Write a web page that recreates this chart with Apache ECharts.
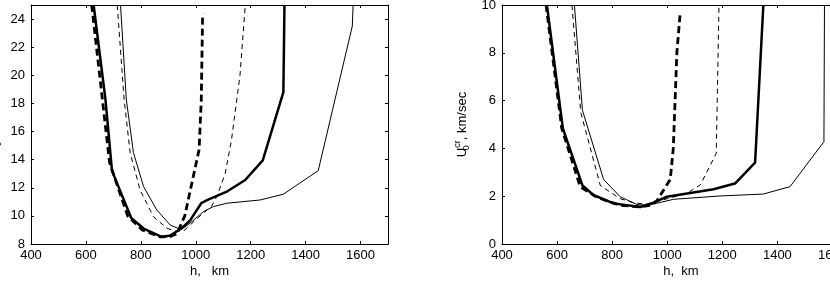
<!DOCTYPE html>
<html><head><meta charset="utf-8">
<script src="https://cdn.jsdelivr.net/npm/echarts@6/dist/echarts.min.js"></script>
<style>html,body{margin:0;padding:0;background:#fff}#c{width:830px;height:283px}</style>
</head><body><div id="c"></div>
<script>
// ---- tick labels / ranges ----
const hTicks = [400, 600, 800, 1000, 1200, 1400, 1600];
const hRange = [400, 1700];
const leftYTicks = [8, 10, 12, 14, 16, 18, 20, 22, 24];
const leftYRange = [8, 25];
const rightYTicks = [0, 2, 4, 6, 8, 10];
const rightYRange = [0, 10];
const xNames = ['h,   km', 'h,  km'];
const yNames = ['{m|U}{s|0}{m|, km/sec}', '{m|U}{s|0}{p|cr}{m|, km/sec}'];

// ---- left panel series [h, value] ----
const leftThickDashed = [[621,25],[686,13.8],[752,10.0],[805,9.0],[870,8.5],[910,8.55],[932,8.75],[960,10.0],[1012,14.7],[1020,18.2],[1025,24.4]];
const leftThickSolid = [[628,25],[671,18.3],[695,13.2],[765,9.85],[810,9.1],[876,8.5],[907,8.6],[949,9.12],[980,9.7],[1020,10.9],[1045,11.15],[1115,11.75],[1180,12.55],[1244,13.95],[1319,18.8],[1323,25]];
const leftThinDashed = [[714,25],[739,18.3],[761,14.5],[797,11.85],[846,9.94],[895,9.12],[931,8.88],[960,9.0],[1010,9.9],[1058,10.7],[1077,11.4],[1107,13.0],[1130,15.4],[1161,20.0],[1180,24.9]];
const leftThinSolid = [[726,25],[747,18.3],[773,14.5],[810,12.08],[858,10.42],[907,9.35],[937,9.1],[960,9.2],[986,9.6],[1028,10.3],[1064,10.66],[1113,10.9],[1234,11.13],[1319,11.54],[1446,13.22],[1570,23.5],[1573,25]];

// ---- right panel series [h, value] ----
const rightThickDashed = [[560,10],[617,4.84],[684,2.4],[745,1.95],[829,1.62],[902,1.55],[940,1.62],[962,1.8],[1011,2.7],[1022,4.0],[1035,8.0],[1047,9.65]];
const rightThickSolid = [[563,10],[621,4.84],[692,2.45],[732,2.05],[805,1.7],[902,1.55],[950,1.73],[999,1.98],[1168,2.29],[1246,2.53],[1319,3.4],[1349,10]];
const rightThinDashed = [[654,10],[686,5.5],[757,2.45],[828,1.9],[880,1.72],[930,1.66],[970,1.8],[1071,2.12],[1120,2.47],[1178,3.79],[1188,10]];
const rightThinSolid = [[663,10],[692,5.6],[769,2.7],[829,1.98],[890,1.65],[930,1.62],[960,1.7],[1023,1.87],[1192,2.01],[1349,2.09],[1446,2.4],[1569,4.28],[1571,10]];

const FONT = '"Liberation Sans", Arial, Helvetica, sans-serif';
const BLACK = '#000';
const grids = [
  {left: 31, top: 5, width: 357, height: 239},
  {left: 502, top: 5, width: 358, height: 239}
];

function tickFmt(list) { return v => (list.indexOf(v) >= 0 ? String(v) : ''); }

const xAxis = [], yAxis = [];
grids.forEach((g, i) => {
  const baseX = {gridIndex: i, type: 'value', min: hRange[0], max: hRange[1], interval: hTicks[1] - hTicks[0],
    splitLine: {show: false},
    axisLine: {show: true, onZero: false, lineStyle: {color: BLACK, width: 1}},
    axisTick: {show: true, inside: true, length: 3, lineStyle: {color: BLACK, width: 1}}};
  xAxis.push(Object.assign({}, baseX, {position: 'bottom', name: xNames[i], nameLocation: 'middle', nameGap: 21,
    nameMoveOverlap: false,
    nameTextStyle: {color: BLACK, fontSize: 13, fontFamily: FONT},
    axisLabel: {show: true, margin: 5, color: BLACK, fontSize: 13, fontFamily: FONT, formatter: tickFmt(hTicks)}}));
  xAxis.push(Object.assign({}, baseX, {position: 'top', axisLabel: {show: false}}));

  const yt = i === 0 ? leftYTicks : rightYTicks;
  const yr = i === 0 ? leftYRange : rightYRange;
  const baseY = {gridIndex: i, type: 'value', min: yr[0], max: yr[1], interval: yt[1] - yt[0],
    splitLine: {show: false},
    axisLine: {show: true, onZero: false, lineStyle: {color: BLACK, width: 1}},
    axisTick: {show: true, inside: true, length: 3, lineStyle: {color: BLACK, width: 1}}};
  yAxis.push(Object.assign({}, baseY, {position: 'left', name: yNames[i], nameLocation: 'middle', nameRotate: 90,
    nameGap: i === 0 ? 28 : 31, nameMoveOverlap: false,
    nameTextStyle: {color: BLACK, fontSize: 13, fontFamily: FONT,
      rich: {
        m: {fontSize: 13, fontFamily: FONT, color: BLACK, lineHeight: 18, verticalAlign: 'middle'},
        s: {fontSize: 9, fontFamily: FONT, color: BLACK, lineHeight: 9, verticalAlign: 'bottom', width: 0.01, align: 'left'},
        p: {fontSize: 9, fontFamily: FONT, color: BLACK, lineHeight: 9, verticalAlign: 'top'}
      }},
    axisLabel: {show: true, margin: 6, color: BLACK, fontSize: 13, fontFamily: FONT, formatter: tickFmt(yt)}}));
  yAxis.push(Object.assign({}, baseY, {position: 'right', axisLabel: {show: false}}));
});

function line(data, grid, width, dash) {
  return {type: 'line', data: data, xAxisIndex: grid * 2, yAxisIndex: grid * 2, showSymbol: false, symbol: 'none',
    smooth: false, clip: true, silent: true,
    lineStyle: {color: BLACK, width: width, type: dash || 'solid', cap: 'butt', join: 'round'}};
}

const series = [
  line(leftThinSolid, 0, 1),
  line(leftThinDashed, 0, 1, [5, 4]),
  line(leftThickSolid, 0, 2.5),
  line(leftThickDashed, 0, 2.8, [7, 4]),
  line(rightThinSolid, 1, 1),
  line(rightThinDashed, 1, 1, [5, 4]),
  line(rightThickSolid, 1, 2.5),
  line(rightThickDashed, 1, 2.8, [7, 4])
];

const chart = echarts.init(document.getElementById('c'), null, {renderer: 'canvas'});
chart.setOption({
  animation: false,
  backgroundColor: '#fff',
  grid: grids.map(g => Object.assign({containLabel: false, outerBoundsMode: 'none'}, g)),
  xAxis: xAxis,
  yAxis: yAxis,
  series: series
});
</script></body></html>
